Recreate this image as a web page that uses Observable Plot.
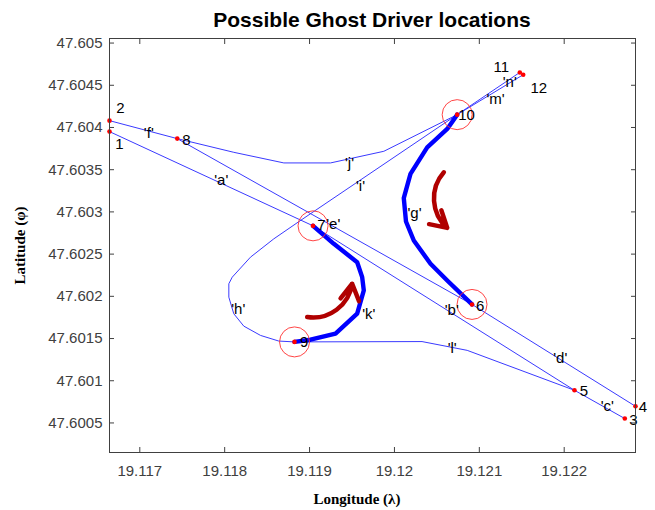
<!DOCTYPE html>
<html><head><meta charset="utf-8">
<script src="https://cdn.jsdelivr.net/npm/d3@7"></script>
<script src="https://cdn.jsdelivr.net/npm/@observablehq/plot@0.6"></script>
<style>
body{margin:0;background:#fff;}
#wrap{position:relative;width:655px;height:510px;}
#title{position:absolute;left:109px;width:526px;top:9px;text-align:center;font:bold 21px "Liberation Sans",Arial,sans-serif;line-height:21px;color:#000;white-space:nowrap;}
#xlabel{position:absolute;left:257px;width:200px;top:492px;text-align:center;font:bold 15px "Liberation Serif","Times New Roman",serif;line-height:15px;color:#000;white-space:nowrap;}
#chart{position:absolute;left:0;top:0;}
</style></head><body>
<div id="wrap"><div id="chart"></div><div id="title"></div><div id="xlabel"></div></div>
<script>
// ---- Data ----
const titleText = "Possible Ghost Driver locations";
const xLabel = "Longitude (λ)";
const yLabel = "Latitude (φ)";

const xDomain = [19.116643, 19.12284];
const yDomain = [47.60015, 47.605054];
const xTicks = [19.117, 19.118, 19.119, 19.12, 19.121, 19.122];
const xTickLabels = ["19.117", "19.118", "19.119", "19.12", "19.121", "19.122"];
const yTicks = [47.6005, 47.601, 47.6015, 47.602, 47.6025, 47.603, 47.6035, 47.604, 47.6045, 47.605];
const yTickLabels = ["47.6005", "47.601", "47.6015", "47.602", "47.6025", "47.603", "47.6035", "47.604", "47.6045", "47.605"];

// numbered points
const pointIds = [1, 2, 3, 4, 5, 6, 7, 8, 9, 10, 11, 12];
const pointLon = [19.116643, 19.116643, 19.122714, 19.12284, 19.122121, 19.120914, 19.119041, 19.117441, 19.118823, 19.120739, 19.121477, 19.121517];
const pointLat = [47.603951, 47.604081, 47.600552, 47.600697, 47.600887, 47.601904, 47.602835, 47.603868, 47.60146, 47.604152, 47.604652, 47.604625];
const pointLabelLon = [19.116761, 19.116773, 19.122816, 19.122928, 19.122231, 19.12101, 19.119141, 19.117548, 19.118937, 19.120849, 19.121259, 19.1217];
const pointLabelLat = [47.603805, 47.604223, 47.600535, 47.600686, 47.600881, 47.601878, 47.602839, 47.603844, 47.601458, 47.60414, 47.604711, 47.604471];
const circledPoints = [7, 10, 9, 6];

// straight road segments between numbered points
const segNames = ["a", "b", "c", "d", "e", "f", "m", "n"];
const segFrom = [1, 7, 5, 4, 6, 8, 10, 10];
const segTo = [7, 5, 3, 6, 8, 2, 12, 11];

// curved road segments
const gLon = [19.120739, 19.120622, 19.120386, 19.120189, 19.12011, 19.120136, 19.120228, 19.120425, 19.120622, 19.120914];
const gLat = [47.604152, 47.603983, 47.603765, 47.60345, 47.603164, 47.602886, 47.602661, 47.602386, 47.602188, 47.601904];
const kLon = [19.118823, 19.119011, 19.119306, 19.119561, 19.119639, 19.11962, 19.119561, 19.119286, 19.119041];
const kLat = [47.60146, 47.601486, 47.601557, 47.601794, 47.60207, 47.602227, 47.602404, 47.602622, 47.602835];
const hLon = [19.118823, 19.118638, 19.118422, 19.118225, 19.118107, 19.118049, 19.118049, 19.118089, 19.118304, 19.118579, 19.118893];
const hLat = [47.60146, 47.60147, 47.601537, 47.601647, 47.601794, 47.60199, 47.602149, 47.602227, 47.602464, 47.602681, 47.602898];
const iLon = [19.118893, 19.120739];
const iLat = [47.602898, 47.604152];
const jLon = [19.117441, 19.118107, 19.118697, 19.119247, 19.119875, 19.120739];
const jLat = [47.603868, 47.603706, 47.60358, 47.60358, 47.603718, 47.604152];
const lLon = [19.118823, 19.120325, 19.120857, 19.122121];
const lLat = [47.60146, 47.601464, 47.60136, 47.600887];
const thickPaths = ["g", "k"];

// segment labels
const segLabelText = ["'a'", "'b'", "'c'", "'d'", "'e'", "'f'", "'g'", "'h'", "'i'", "'j'", "'k'", "'l'", "'m'", "'n'"];
const segLabelLon = [19.11796, 19.120675, 19.122507, 19.121953, 19.119279, 19.117106, 19.120236, 19.11816, 19.1196, 19.119471, 19.119698, 19.12068, 19.121191, 19.121358];
const segLabelLat = [47.603371, 47.601833, 47.6007, 47.601271, 47.602859, 47.603933, 47.602987, 47.601853, 47.603302, 47.603578, 47.601794, 47.601389, 47.604341, 47.604534];

// direction arrows
const arrowFromLon = [19.120582, 19.118972];
const arrowFromLat = [47.603469, 47.601754];
const arrowToLon = [19.120622, 19.119502];
const arrowToLat = [47.602811, 47.602149];

// ---- Build tables ----
const points = pointIds.map((id, i) => ({id, lon: pointLon[i], lat: pointLat[i], llon: pointLabelLon[i], llat: pointLabelLat[i]}));
const byId = new Map(points.map(p => [p.id, p]));
const rows = [];
segNames.forEach((n, i) => {
  const a = byId.get(segFrom[i]), b = byId.get(segTo[i]);
  rows.push({path: n, lon: a.lon, lat: a.lat}, {path: n, lon: b.lon, lat: b.lat});
});
const curves = {g: [gLon, gLat], k: [kLon, kLat], h: [hLon, hLat], i: [iLon, iLat], j: [jLon, jLat], l: [lLon, lLat]};
for (const [n, [lo, la]] of Object.entries(curves)) lo.forEach((v, i) => rows.push({path: n, lon: v, lat: la[i]}));
const thinRows = rows.filter(r => !thickPaths.includes(r.path));
const thickRows = rows.filter(r => thickPaths.includes(r.path));
const circled = circledPoints.map(id => byId.get(id));
const segLabels = segLabelText.map((t, i) => ({t, lon: segLabelLon[i], lat: segLabelLat[i]}));
const arrows = arrowFromLon.map((v, i) => ({x1: v, y1: arrowFromLat[i], x2: arrowToLon[i], y2: arrowToLat[i]}));

const sans = "'Liberation Sans', Arial, Helvetica, sans-serif";
const serif = "'Liberation Serif', 'Times New Roman', serif";
const axisColor = "#404040";

const chart = Plot.plot({
  width: 655, height: 510,
  marginLeft: 109, marginRight: 20, marginTop: 38, marginBottom: 58,
  x: {domain: xDomain, label: null},
  y: {domain: yDomain, label: null},
  style: {fontFamily: sans, background: "transparent"},
  marks: [
    Plot.line(thinRows, {x: "lon", y: "lat", z: "path", stroke: "#3a3aff", strokeWidth: 1}),
    Plot.line(thickRows, {x: "lon", y: "lat", z: "path", stroke: "#0000ff", strokeWidth: 4.4, strokeLinejoin: "round"}),
    Plot.dot(circled, {x: "lon", y: "lat", r: 15, stroke: "#ff3030", strokeWidth: 0.9, fill: "none"}),
    Plot.dot(points, {x: "lon", y: "lat", r: 2.3, fill: "#ff0000"}),
    Plot.arrow(arrows, {x1: "x1", y1: "y1", x2: "x2", y2: "y2", bend: -45, stroke: "#b00000", strokeWidth: 4.5, headLength: 12}),
    Plot.text(points, {x: "llon", y: "llat", text: d => String(d.id), fontSize: 15, fill: "#000", textAnchor: "middle", lineAnchor: "middle"}),
    Plot.text(segLabels, {x: "lon", y: "lat", text: "t", fontSize: 15, fill: "#000", textAnchor: "middle", lineAnchor: "middle"}),
    Plot.frame({stroke: axisColor, strokeWidth: 1}),
    Plot.axisX({ticks: xTicks, tickFormat: d => xTickLabels[xTicks.indexOf(d)], tickSize: -5, tickPadding: 18, fontSize: 15, color: axisColor, label: null}),
    Plot.axisX({anchor: "top", ticks: xTicks, tickFormat: () => "", tickSize: -5, color: axisColor, label: null}),
    Plot.axisY({ticks: yTicks, tickFormat: d => yTickLabels[yTicks.indexOf(d)], tickSize: -5, tickPadding: 12, fontSize: 15, color: axisColor, label: null}),
    Plot.axisY({anchor: "right", ticks: yTicks, tickFormat: () => "", tickSize: -5, color: axisColor, label: null}),
    Plot.axisY({ticks: [], label: yLabel, labelArrow: "none", labelAnchor: "center", labelOffset: 95, fontFamily: serif, fontWeight: "bold", fontSize: 15, color: "#000"})
  ]
});
document.getElementById("chart").appendChild(chart);
document.getElementById("title").textContent = titleText;
document.getElementById("xlabel").textContent = xLabel;
</script>
</body></html>
